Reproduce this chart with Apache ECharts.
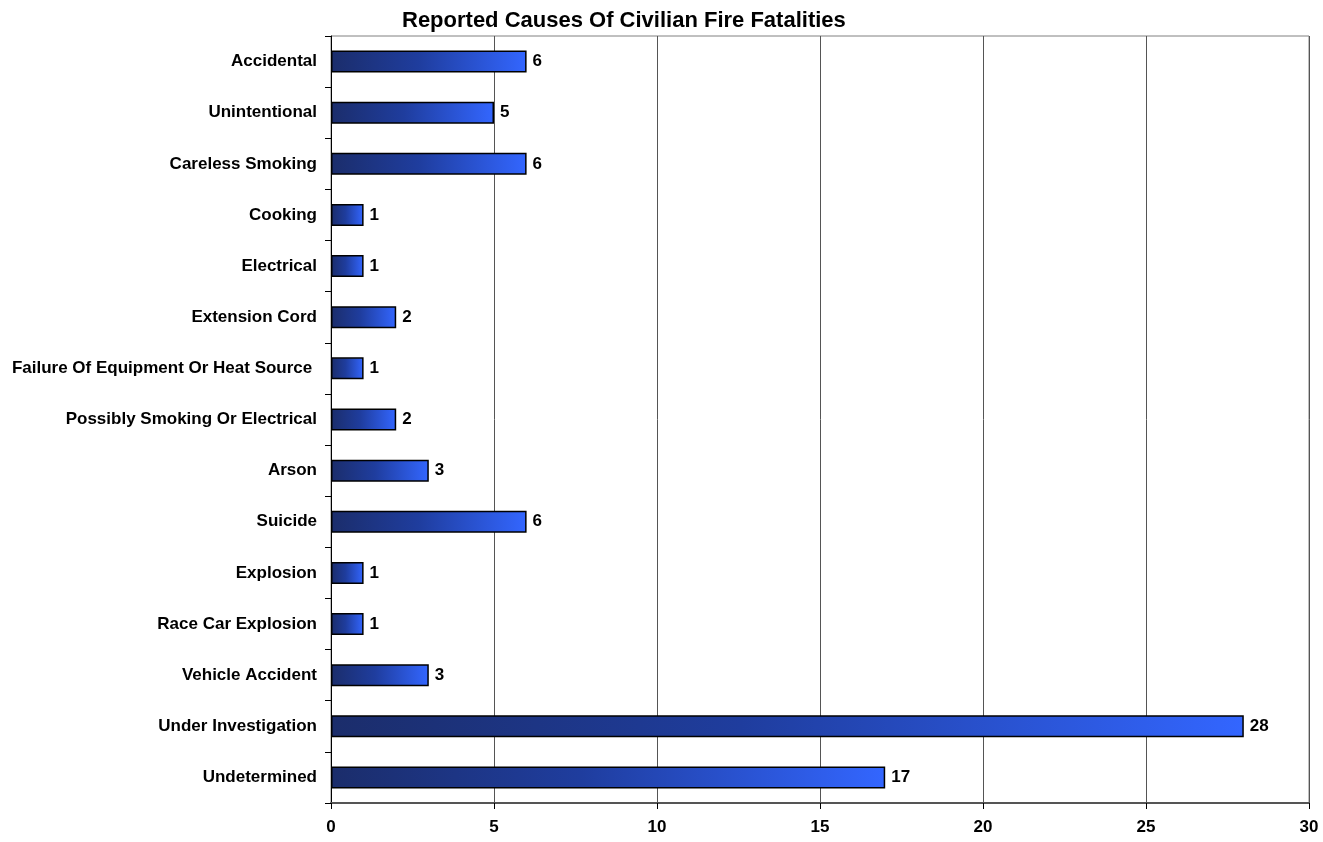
<!DOCTYPE html>
<html><head><meta charset="utf-8">
<script src="https://cdn.jsdelivr.net/npm/echarts@6/dist/echarts.min.js"></script>
<style>html,body{margin:0;padding:0;background:#fff}#c{width:1323px;height:842px}</style>
</head><body><div id="c"></div>
<script>
const categories = ["Accidental","Unintentional","Careless Smoking","Cooking","Electrical","Extension Cord","Failure Of Equipment Or Heat Source ","Possibly Smoking Or Electrical","Arson","Suicide","Explosion","Race Car Explosion","Vehicle Accident","Under Investigation","Undetermined"];
const values = [6,5,6,1,1,2,1,2,3,6,1,1,3,28,17];
const xTicks = {min:0,max:30,interval:5};
const title = "Reported Causes Of Civilian Fire Fatalities";

const chart = echarts.init(document.getElementById('c'), null, {renderer:'canvas'});
const F = '"Liberation Sans", Arial, sans-serif';
chart.setOption({
  animation:false,
  backgroundColor:'#ffffff',
  title:{text:title,left:397,top:5,textStyle:{fontFamily:F,fontWeight:'bold',fontSize:22,color:'#000'}},
  grid:{left:331,right:14,top:36,bottom:39,containLabel:false,show:true,borderColor:'#808080',borderWidth:1},
  xAxis:{type:'value',min:xTicks.min,max:xTicks.max,interval:xTicks.interval,
    axisLine:{show:true,lineStyle:{color:'#555',width:2}},
    axisTick:{show:true,length:6,lineStyle:{color:'#000'}},
    splitLine:{show:true,lineStyle:{color:'#555',width:1}},
    axisLabel:{fontFamily:F,fontWeight:'bold',fontSize:17,color:'#000',margin:16}},
  yAxis:{type:'category',data:categories,inverse:true,
    axisLine:{show:true,lineStyle:{color:'#000',width:1}},
    axisTick:{show:true,length:6,lineStyle:{color:'#000'}},
    axisLabel:{fontFamily:F,fontWeight:'bold',fontSize:17,color:'#000',margin:14}},
  series:[{type:'bar',data:values,barWidth:22,
    itemStyle:{borderColor:'#000',borderWidth:1.5,
      color:new echarts.graphic.LinearGradient(0,0,1,0,[{offset:0,color:'#1b2d6b'},{offset:0.45,color:'#1f3d9e'},{offset:1,color:'#3366ff'}])},
    label:{show:true,position:'right',distance:6,fontFamily:F,fontWeight:'bold',fontSize:17,color:'#000'}}]
});
</script></body></html>
